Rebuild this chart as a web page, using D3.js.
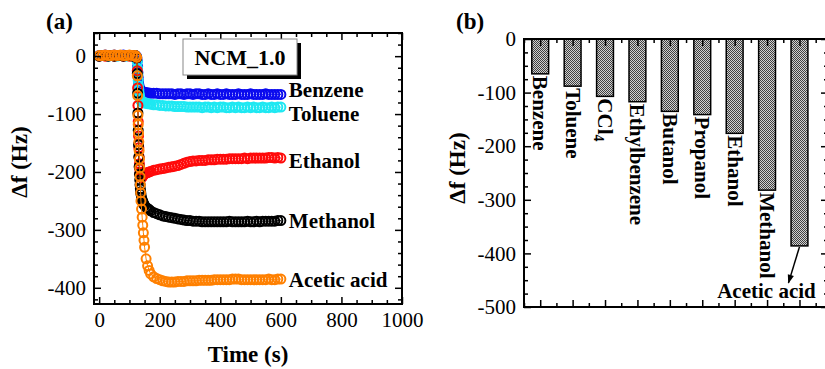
<!DOCTYPE html>
<html>
<head>
<meta charset="utf-8">
<script src="https://cdn.jsdelivr.net/npm/d3@7"></script>
<style>
body { margin: 0; background: #fff; }
svg text { font-family: "Liberation Serif", "Times New Roman", serif; fill: #000; }
</style>
</head>
<body>
<div id="chart"></div>
<script>
// ---- data, panel (a): frequency shift vs time ----
var times = [0,10,20,30,40,50,60,70,80,90,100,110,120,
  124,126,127,128,129,130,131,132,133,134,135,136,137,
  138,140,142,144,146,148,150,
  155,160,165,170,
  180,190,200,
  210,220,230,240,250,260,270,280,290,
  300,310,320,330,340,350,360,370,380,390,400,410,420,430,440,450,460,470,480,490,500,510,520,530,540,550,560,570,580,590,600];

var benzene = [1,1,2,1,1,2,1,1,2,1,1,1,1,
  -1,-8,-18,-28,-37,-44,-49,-53,-55,-57,-58,-59,-60,
  -60,-61,-61,-62,-62,-62,-63,
  -63,-63,-64,-64,
  -64,-64,-65,
  -65,-65,-65,-65,-66,-65,-65,-66,-65,
  -65,-66,-65,-65,-66,-66,-65,-66,-66,-65,-66,-66,-65,-66,-66,-66,-65,-66,-66,-66,-65,-66,-66,-66,-66,-65,-66,-66,-66,-66,-66];

var toluene = [0,1,1,0,1,1,0,1,1,0,1,1,0,
  -2,-10,-21,-32,-42,-51,-58,-64,-68,-71,-73,-75,-76,
  -77,-78,-79,-79,-80,-80,-81,
  -81,-82,-82,-83,
  -84,-84,-85,
  -85,-86,-86,-86,-87,-87,-87,-87,-88,
  -88,-88,-88,-88,-89,-88,-88,-89,-88,-89,-88,-88,-89,-89,-88,-89,-88,-89,-89,-88,-89,-88,-89,-89,-88,-89,-89,-88,-89,-88,-88];

var ethanol = [0,1,0,1,1,0,1,1,0,1,0,1,0,
  -3,-25,-55,-85,-113,-138,-158,-174,-186,-195,-201,-205,-208,
  -209,-210,-209,-207,-205,-204,-203,
  -202,-201,-200,-199,
  -197,-196,-195,
  -194,-193,-192,-191,-190,-189,-187,-185,-183,
  -182,-181,-181,-180,-180,-180,-179,-179,-179,-178,-178,-178,-178,-177,-177,-177,-177,-177,-176,-177,-176,-176,-176,-176,-176,-176,-175,-175,-176,-175,-176];

var methanol = [0,1,1,0,1,0,1,1,0,1,1,0,1,
  -3,-30,-64,-98,-128,-153,-174,-191,-204,-214,-222,-229,-234,
  -238,-244,-248,-251,-254,-256,-258,
  -261,-263,-265,-267,
  -270,-272,-274,
  -276,-277,-278,-279,-280,-281,-282,-283,-284,
  -284,-285,-285,-285,-286,-286,-286,-286,-286,-286,-286,-286,-286,-285,-286,-286,-286,-286,-286,-285,-286,-286,-285,-286,-285,-285,-285,-285,-285,-284,-284];

var aceticAcid = [1,1,2,1,1,2,1,2,1,1,2,1,1,
  -2,-34,-68,-102,-118,-133,-148,-163,-178,-193,-208,-222,-236,
  -250,-264,-278,-292,-305,-318,-330,
  -350,-362,-370,-376,
  -381,-384,-386,
  -388,-389,-390,-390,-390,-389,-389,-389,-388,
  -388,-388,-388,-387,-387,-387,-387,-387,-386,-386,-386,-386,-386,-386,-385,-385,-385,-386,-386,-386,-386,-386,-386,-386,-386,-386,-385,-386,-386,-385,-385];

var seriesNames = ["Benzene", "Toluene", "Ethanol", "Methanol", "Acetic acid"];
var seriesValues = [benzene, toluene, ethanol, methanol, aceticAcid];
var seriesColors = ["#0a0aee", "#1ee8f2", "#ff0a0a", "#000000", "#ff8000"];
var labelNudge = [-4, 7, 3, 0, 1];   // px, keeps end labels apart

var xTicksA = [0, 200, 400, 600, 800, 1000];
var yTicksA = [-400, -300, -200, -100, 0];

// ---- data, panel (b): final shift per vapour ----
var vapours = ["Benzene", "Toluene", "CCl4", "Ethylbenzene", "Butanol", "Propanol", "Ethanol", "Methanol", "Acetic acid"];
var shifts = [-65, -88, -107, -117, -135, -141, -176, -282, -386];
var yTicksB = [-500, -400, -300, -200, -100, 0];

var w = 825, h = 369;
var svg = d3.select("#chart").append("svg")
  .attr("width", w)
  .attr("height", h);

var defs = svg.append("defs");
var pat = defs.append("pattern")
  .attr("id", "hatch")
  .attr("width", 2).attr("height", 2)
  .attr("patternUnits", "userSpaceOnUse");
pat.append("rect").attr("width", 2).attr("height", 2).attr("fill", "#d0d0d0");
pat.append("rect").attr("width", 1).attr("height", 1).attr("fill", "#404040");
pat.append("rect").attr("x", 1).attr("y", 1).attr("width", 1).attr("height", 1).attr("fill", "#404040");

defs.append("marker")
  .attr("id", "arrow")
  .attr("viewBox", "0 0 10 10")
  .attr("refX", 9).attr("refY", 5)
  .attr("markerWidth", 8).attr("markerHeight", 6)
  .attr("orient", "auto")
  .append("path")
  .attr("d", "M0,1.5 L10,5 L0,8.5 Z")
  .attr("fill", "#000");

var plain = function(d) { return String(d); };

// draws inward ticks on all four sides of a frame
function frame(g, x, y, xMajor, xMinor, yMajor, yMinor, box, labelX) {
  var styleAxis = function(sel) {
    sel.select(".domain").remove();
    sel.selectAll(".tick line").attr("stroke", "#000").attr("stroke-width", 1.5);
    sel.selectAll(".tick text")
      .style("font-family", "'Liberation Serif', serif")
      .style("font-size", "21px")
      .attr("fill", "#000");
  };
  // bottom
  g.append("g").attr("transform", "translate(0," + box.bottom + ")")
    .call(d3.axisBottom(x).tickValues(xMajor).tickSize(-7).tickPadding(8).tickFormat(labelX ? plain : ""))
    .call(styleAxis);
  g.append("g").attr("transform", "translate(0," + box.bottom + ")")
    .call(d3.axisBottom(x).tickValues(xMinor).tickSize(-4).tickFormat(""))
    .call(styleAxis);
  // top
  g.append("g").attr("transform", "translate(0," + box.top + ")")
    .call(d3.axisTop(x).tickValues(xMajor).tickSize(-7).tickFormat(""))
    .call(styleAxis);
  g.append("g").attr("transform", "translate(0," + box.top + ")")
    .call(d3.axisTop(x).tickValues(xMinor).tickSize(-4).tickFormat(""))
    .call(styleAxis);
  // left
  g.append("g").attr("transform", "translate(" + box.left + ",0)")
    .call(d3.axisLeft(y).tickValues(yMajor).tickSize(-7).tickPadding(8).tickFormat(plain))
    .call(styleAxis);
  g.append("g").attr("transform", "translate(" + box.left + ",0)")
    .call(d3.axisLeft(y).tickValues(yMinor).tickSize(-4).tickFormat(""))
    .call(styleAxis);
  // right
  g.append("g").attr("transform", "translate(" + box.right + ",0)")
    .call(d3.axisRight(y).tickValues(yMajor).tickSize(-7).tickFormat(""))
    .call(styleAxis);
  g.append("g").attr("transform", "translate(" + box.right + ",0)")
    .call(d3.axisRight(y).tickValues(yMinor).tickSize(-4).tickFormat(""))
    .call(styleAxis);

  g.append("rect")
    .attr("x", box.left).attr("y", box.top)
    .attr("width", box.right - box.left).attr("height", box.bottom - box.top)
    .attr("fill", "none").attr("stroke", "#000").attr("stroke-width", 2);
}

// ================= panel (a) =================
var boxA = { left: 94, right: 402, top: 33, bottom: 304 };
var xa = d3.scaleLinear().domain([-17, 1000]).range([boxA.left, boxA.right]);
var ya = d3.scaleLinear().domain([-428, 40]).range([boxA.bottom, boxA.top]);

var ga = svg.append("g");

var line = d3.line()
  .x(function(d) { return xa(d[0]); })
  .y(function(d) { return ya(d[1]); });

seriesValues.forEach(function(vals, i) {
  var pts = times.map(function(t, k) { return [t, vals[k]]; });
  var s = ga.append("g");
  s.append("path")
    .datum(pts)
    .attr("d", line)
    .attr("fill", "none")
    .attr("stroke", seriesColors[i])
    .attr("stroke-width", 1);
  s.selectAll("circle")
    .data(pts)
    .enter()
    .append("circle")
    .attr("cx", function(d) { return xa(d[0]); })
    .attr("cy", function(d) { return ya(d[1]); })
    .attr("r", 4.5)
    .attr("fill", "none")
    .attr("stroke", seriesColors[i])
    .attr("stroke-width", 2);
});

seriesNames.forEach(function(name, i) {
  var vals = seriesValues[i];
  ga.append("text")
    .attr("x", xa(times[times.length - 1]) + 8)
    .attr("y", ya(vals[vals.length - 1]) + labelNudge[i])
    .attr("dominant-baseline", "central")
    .style("font-size", "21px")
    .style("font-weight", "bold")
    .text(name);
});

frame(ga, xa, ya, xTicksA, d3.range(0, 1001, 50).filter(function(v) { return v % 200; }),
  yTicksA, d3.range(-420, 41, 20).filter(function(v) { return v % 100; }), boxA, true);

// legend box
ga.append("rect").attr("x", 187).attr("y", 43).attr("width", 114).attr("height", 36).attr("fill", "#000");
ga.append("rect").attr("x", 183).attr("y", 39).attr("width", 114).attr("height", 36)
  .attr("fill", "#fff").attr("stroke", "#888").attr("stroke-width", 1);
ga.append("text").attr("x", 240).attr("y", 65).attr("text-anchor", "middle")
  .style("font-size", "22px").style("font-weight", "bold").text("NCM_1.0");

ga.append("text").attr("x", (boxA.left + boxA.right) / 2).attr("y", 362)
  .attr("text-anchor", "middle")
  .style("font-size", "23px").style("font-weight", "bold").text("Time (s)");
ga.append("text").attr("transform", "translate(27,162) rotate(-90)")
  .attr("text-anchor", "middle")
  .style("font-size", "23px").style("font-weight", "bold").text("Δf (Hz)");
ga.append("text").attr("x", 46).attr("y", 29)
  .style("font-size", "23px").style("font-weight", "bold").text("(a)");

// ================= panel (b) =================
var boxB = { left: 524, right: 828, top: 39, bottom: 307 };
var xb = d3.scaleLinear().domain([0.5, 9.88]).range([boxB.left, boxB.right]);
var yb = d3.scaleLinear().domain([-500, 0]).range([boxB.bottom, boxB.top]);
var gb = svg.append("g");
var barHalf = 0.26;

gb.selectAll("rect.bar")
  .data(shifts)
  .enter()
  .append("rect")
  .attr("class", "bar")
  .attr("x", function(d, i) { return xb(i + 1 - barHalf); })
  .attr("y", yb(0))
  .attr("width", function(d, i) { return xb(i + 1 + barHalf) - xb(i + 1 - barHalf); })
  .attr("height", function(d) { return yb(d) - yb(0); })
  .attr("fill", "url(#hatch)")
  .attr("stroke", "#000")
  .attr("stroke-width", 1.5);

var idx = d3.range(1, vapours.length + 1);
frame(gb, xb, yb, idx, idx.map(function(v) { return v - 0.5; }).concat([9.5]),
  yTicksB, d3.range(-475, 0, 25).filter(function(v) { return v % 100; }), boxB, false);

// rotated labels under each bar (all but the last)
vapours.slice(0, 8).forEach(function(name, i) {
  var t = gb.append("text")
    .attr("transform", "translate(" + xb(i + 1) + "," + (yb(shifts[i]) + 2) + ") rotate(90)")
    .attr("dominant-baseline", "central")
    .style("font-size", "21px")
    .style("font-weight", "bold");
  if (name === "CCl4") {
    t.append("tspan").text("CCl");
    t.append("tspan").attr("dy", 6).style("font-size", "14px").text("4");
  } else {
    t.text(name);
  }
});

// arrow annotation for the last bar
var last = vapours.length;
gb.append("line")
  .attr("x1", xb(last)).attr("y1", yb(shifts[last - 1]) + 1)
  .attr("x2", xb(last) - 11).attr("y2", yb(shifts[last - 1]) + 37)
  .attr("stroke", "#000").attr("stroke-width", 1.5)
  .attr("marker-end", "url(#arrow)");
gb.append("text").attr("x", xb(last) - 33).attr("y", 298)
  .attr("text-anchor", "middle")
  .style("font-size", "21px").style("font-weight", "bold").text(vapours[last - 1]);

gb.append("text").attr("transform", "translate(465,168) rotate(-90)")
  .attr("text-anchor", "middle")
  .style("font-size", "23px").style("font-weight", "bold").text("Δf (Hz)");
gb.append("text").attr("x", 456).attr("y", 29)
  .style("font-size", "23px").style("font-weight", "bold").text("(b)");
</script>
</body>
</html>
